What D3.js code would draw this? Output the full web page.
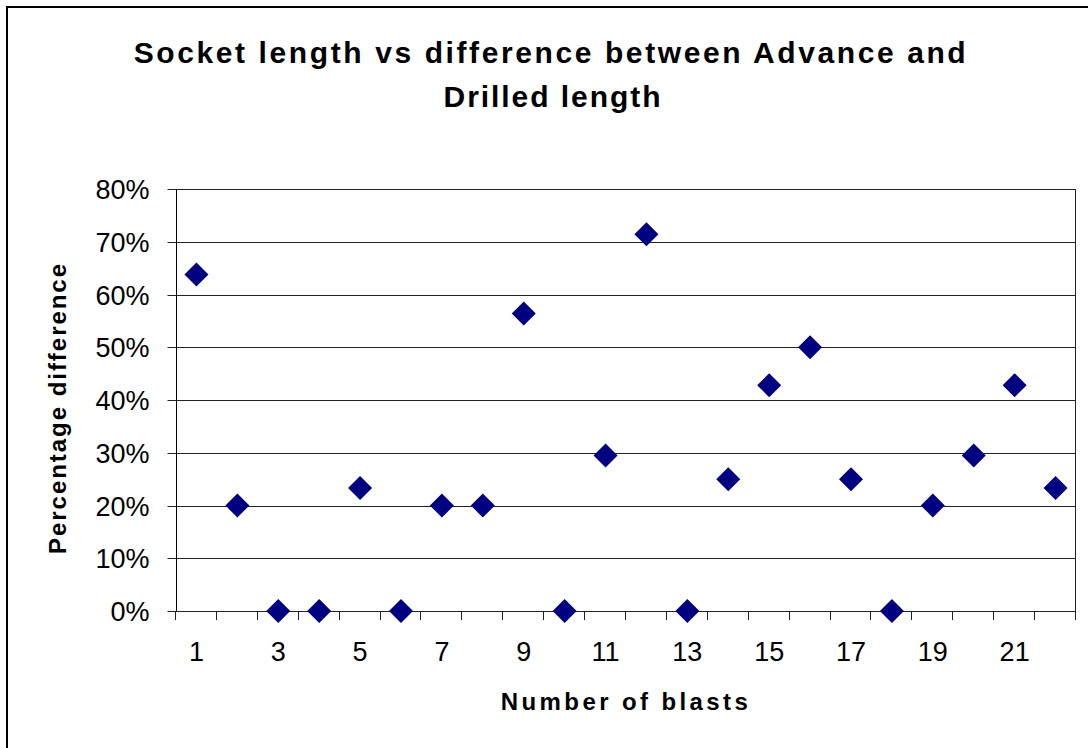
<!DOCTYPE html>
<html>
<head>
<meta charset="utf-8">
<script src="https://cdn.jsdelivr.net/npm/d3@7"></script>
<style>
  html, body { margin: 0; padding: 0; background: #fff; }
  svg { display: block; }
  text { font-family: "Liberation Sans", Arial, sans-serif; fill: #000; }
</style>
</head>
<body>
<svg id="chart" width="1088" height="748"></svg>
<script>
// ---- data ----
const blasts = [1,2,3,4,5,6,7,8,9,10,11,12,13,14,15,16,17,18,19,20,21,22];
const percentDiff = [0.638,0.20,0,0,0.233,0,0.20,0.20,0.564,0,0.295,0.714,0,0.25,0.428,0.50,0.25,0,0.20,0.295,0.428,0.233];
const yTicks = [0,0.1,0.2,0.3,0.4,0.5,0.6,0.7,0.8];
const xTickLabels = [1,3,5,7,9,11,13,15,17,19,21];
const titleLines = ["Socket length vs difference between Advance and", "Drilled length"];
const xTitle = "Number of blasts";
const yTitle = "Percentage difference";

// ---- layout ----
const svg = d3.select("#chart");
const plot = { left: 176, right: 1076, top: 189, bottom: 611 };

// outer chart border
svg.append("rect")
  .attr("x", 7).attr("y", 7).attr("width", 1100).attr("height", 760)
  .attr("fill", "#fff").attr("stroke", "#000").attr("stroke-width", 2);

const x = d3.scaleBand().domain(blasts).range([plot.left, plot.right]).padding(0);
const y = d3.scaleLinear().domain([0, 0.8]).range([plot.bottom, plot.top]);

// gridlines
svg.append("g").selectAll("line").data(yTicks).join("line")
  .attr("x1", plot.left).attr("x2", plot.right)
  .attr("y1", d => Math.round(y(d)) + 0.5).attr("y2", d => Math.round(y(d)) + 0.5)
  .attr("stroke", "#222").attr("stroke-width", 1);

// plot area right border
svg.append("line")
  .attr("x1", plot.right - 0.5).attr("x2", plot.right - 0.5)
  .attr("y1", Math.round(y(0.8)) + 0.5).attr("y2", Math.round(y(0)) + 0.5)
  .attr("stroke", "#222");

// y axis
const yAxis = d3.axisLeft(y).tickValues(yTicks).tickFormat(d3.format(".0%"))
  .tickSize(9).tickPadding(18);
const gy = svg.append("g").attr("transform", `translate(${plot.left + 0.5},0)`).call(yAxis);
gy.select(".domain").remove();
gy.selectAll(".tick").attr("transform", d => `translate(0,${Math.round(y(d)) + 0.5})`);
gy.selectAll(".tick line").attr("stroke", "#222");
gy.selectAll(".tick text")
  .style("font-family", '"Liberation Sans", Arial, sans-serif')
  .style("font-size", "27px").attr("fill", "#000").attr("dy", "0.35em");
svg.append("line")
  .attr("x1", plot.left + 0.5).attr("x2", plot.left + 0.5)
  .attr("y1", plot.top).attr("y2", plot.bottom + 1)
  .attr("stroke", "#000");

// x axis: boundary ticks
const boundaries = blasts.map(b => x(b)).concat([plot.right]);
svg.append("g").selectAll("line").data(boundaries).join("line")
  .attr("x1", d => Math.round(d) - 0.5).attr("x2", d => Math.round(d) - 0.5)
  .attr("y1", Math.round(y(0))).attr("y2", Math.round(y(0)) + 9)
  .attr("stroke", "#222");
// x axis labels
const xAxis = d3.axisBottom(x).tickValues(xTickLabels).tickSize(0).tickPadding(0);
const gx = svg.append("g").attr("transform", `translate(0,${plot.bottom})`).call(xAxis);
gx.select(".domain").remove();
gx.selectAll(".tick text")
  .style("font-family", '"Liberation Sans", Arial, sans-serif')
  .style("font-size", "27px").attr("fill", "#000")
  .attr("y", 50).attr("dy", 0);

// markers
svg.append("g").selectAll("path").data(blasts).join("path")
  .attr("d", d3.symbol(d3.symbolSquare, 288))
  .attr("transform", (d, i) => `translate(${x(d) + x.bandwidth() / 2},${y(percentDiff[i])}) rotate(45)`)
  .attr("fill", "#000080");

// titles with fitted letter spacing
function fitText(sel, targetWidth) {
  const n = sel.text().length;
  const w = sel.node().getComputedTextLength();
  sel.style("letter-spacing", ((targetWidth - w) / Math.max(1, n - 1)) + "px");
}
const t1 = svg.append("text").attr("x", 551).attr("y", 63).attr("text-anchor", "middle")
  .style("font-size", "30px").style("font-weight", "bold").text(titleLines[0]);
fitText(t1, 832);
const t2 = svg.append("text").attr("x", 553).attr("y", 107).attr("text-anchor", "middle")
  .style("font-size", "30px").style("font-weight", "bold").text(titleLines[1]);
fitText(t2, 217);

const xt = svg.append("text").attr("x", 626).attr("y", 710).attr("text-anchor", "middle")
  .style("font-size", "24px").style("font-weight", "bold").text(xTitle);
fitText(xt, 247);

const yt = svg.append("text").attr("transform", "translate(66,408) rotate(-90)")
  .attr("text-anchor", "middle")
  .style("font-size", "24px").style("font-weight", "bold").text(yTitle);
fitText(yt, 290);
</script>
</body>
</html>
